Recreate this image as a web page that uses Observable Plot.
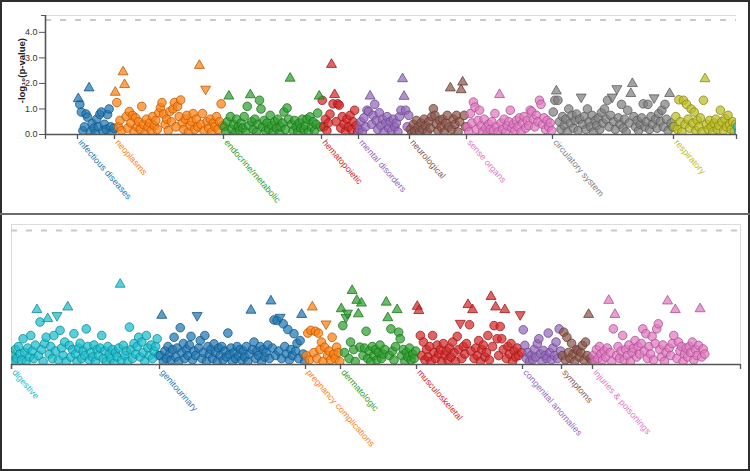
<!DOCTYPE html>
<html><head><meta charset="utf-8">
<script src="https://cdn.jsdelivr.net/npm/d3@7"></script>
<script src="https://cdn.jsdelivr.net/npm/@observablehq/plot@0.6"></script>
<style>
html,body{margin:0;padding:0;background:#fff;}
#wrap{position:relative;width:750px;height:471px;overflow:hidden;font-family:"Liberation Sans",Arial,sans-serif;background:#fff;}
#top,#bottom{position:absolute;left:0;}
#top{top:0;} #bottom{top:214px;}
.b{position:absolute;}
</style></head><body>
<div id="wrap">
<div id="top"></div><div id="bottom"></div>
<div class="b" style="left:0;top:0;width:750px;height:2px;background:#2e2e2e"></div>
<div class="b" style="left:0;top:0;width:2px;height:471px;background:#2e2e2e"></div>
<div class="b" style="left:748px;top:0;width:2px;height:471px;background:#2e2e2e"></div>
<div class="b" style="left:0;top:469px;width:750px;height:2px;background:#2e2e2e"></div>
<div class="b" style="left:0;top:213px;width:750px;height:1.5px;background:#6a6a6a"></div>
</div>
<script>
// ---- data (values are -log10(p); "^" = up triangle, "v" = down triangle) ----
const threshold = 4.48;
const yTicks = [0, 1, 2, 3, 4];
const categories = ["infectious diseases", "neoplasms", "endocrine/metabolic", "hematopoietic", "mental disorders", "neurological", "sense organs", "circulatory system", "respiratory", "digestive", "genitourinary", "pregnancy complications", "dermatologic", "musculoskeletal", "congenital anomalies", "symptoms", "injuries & poisonings"];
const catStart = [0, 18.5, 73, 122, 140.5, 166, 194.5, 237.5, 298, 329.5, 403.5, 476.5, 494, 532, 585, 604.5, 620];
const lastEnd = 676.5;
const catColors = ["#1f77b4", "#ff7f0e", "#2ca02c", "#d62728", "#9467bd", "#8c564b", "#e377c2", "#7f7f7f", "#bcbd22", "#17becf", "#1f77b4", "#ff7f0e", "#2ca02c", "#d62728", "#9467bd", "#8c564b", "#e377c2"];

const infectiousDiseases = ["^1.4", 1.18, 0.88, 0.15, 0.3, 0.8, 0.68, "^1.82", 0.1, 0.43, 0.25, 0.05, 0.6, 0.3, 0.79, 0.88, 0.15, 0.4, 0.2, 0.78, 1.0, 0.3, 0.1, 0.25];
const neoplasms = ["^1.65", 1.25, 0.3, 0.55, 0.15, "^2.45", "^1.95", 0.7, 0.25, 0.9, 0.45, 0.75, 0.1, 0.65, 0.3, 0.5, 0.2, 1.1, 0.4, 0.05, 0.6, 0.3, 0.45, 0.15, 0.7, 0.35, 0.55, 0.2, 0.85, 1.05, 1.25, 0.8, 0.4, 0.6, 0.15, 0.9, 0.5, 1.0, 1.25, 0.3, 1.1, 0.7, 1.35, 0.45, 0.2, 0.6, 0.75, 0.1, 0.35, 0.5, 0.82, 0.2, 0.6, 0.3, "^2.7", 0.4, 0.82, 0.15, "v1.78", 0.5, 0.25, 0.6, 0.1, 0.45, 0.3, 0.7, 0.2, 0.5, 1.2, 0.35];
const endocrineMetabolic = [0.3, 0.1, 0.5, "^1.5", 0.7, 0.2, 0.4, 0.05, 0.6, 0.3, 0.15, 0.45, 0.25, 0.7, 0.1, 1.1, 0.35, "^1.55", 0.5, 0.2, 0.6, 0.1, 0.4, 1.34, 1.0, 0.3, 0.55, 0.15, 0.45, 0.2, 0.75, 0.35, 0.1, 0.5, 0.25, 0.6, 0.05, 0.3, 0.45, 0.88, 0.2, 1.04, 0.6, "^2.2", 0.4, 0.15, 0.55, 0.3, 0.1, 0.45, 0.25, 0.6, 0.2, 0.35, 0.6, 0.1, 0.69, 0.3, 0.5, 0.15, 0.4, 0.84, "^1.5", 0.3];
const hematopoietic = [1.34, 0.3, 0.6, 0.15, 0.45, 0.8, "^2.74", 1.2, "^1.56", 0.5, 1.2, 1.15, 0.25, 0.7, 0.4, 0.1, 0.6, 0.3, 0.75, 0.2, 0.5, 0.95, 0.35, 0.1];
const mentalDisorders = [0.2, 0.5, 0.1, 0.65, 0.3, 0.95, 0.9, "^1.5", 0.4, 0.75, 1.18, 0.55, 0.2, 0.85, 0.35, 0.6, 0.1, 0.45, 0.7, 0.25, 0.5, 0.15, 0.6, 0.3, 0.45, 0.1, 0.7, 0.95, "^2.18", "^1.49", 0.95, 0.3, 0.75];
const neurological = [0.2, 0.05, 0.4, 0.15, 0.55, 0.3, 0.1, 0.45, 0.2, 0.6, 0.35, 0.1, 0.5, 0.25, 0.7, 1.01, 0.75, 0.4, 0.15, 0.55, 0.3, 0.6, 0.1, 0.45, 0.75, 0.3, "^1.82", 0.2, 0.6, 0.4, 0.75, 0.1, 0.5, "^1.75", "^2.05", 0.75, 0.3];
const senseOrgans = [0.3, 0.1, 0.82, 0.45, 1.27, 1.07, 0.2, 0.55, 0.95, 0.35, 0.1, 0.6, 0.25, 0.05, 0.4, 0.2, 0.5, 0.15, 0.82, 0.3, 0.1, "^1.56", 0.45, 0.2, 0.6, 0.1, 0.35, 0.5, 0.95, 0.25, 0.4, 0.15, 0.55, 0.3, 0.65, 0.1, 0.45, 0.7, 0.25, 0.55, 0.35, 0.95, 0.9, 0.6, 0.3, 0.75, 0.5, 1.34, 1.18, 0.4, 0.65, 0.2, 0.55, 0.3, 0.45, 0.15];
const circulatorySystem = [0.88, 1.34, "^1.7", 1.34, 0.5, 0.2, 0.7, 0.35, 0.6, 0.1, 1.0, 0.45, 0.75, 0.25, 0.55, 0.8, 0.15, 0.6, "v1.47", 0.4, 0.7, 0.2, 1.0, 0.5, 0.3, 0.75, 0.1, 0.55, 0.35, 0.65, 0.2, 0.85, 0.45, 1.0, 0.6, 1.34, 0.3, 0.75, "v1.47", 0.5, 0.2, "v1.8", 0.65, 0.4, 1.18, 0.25, 0.6, 0.1, 0.95, 0.45, "^1.6", "^1.99", 0.7, 0.3, 0.55, 0.15, 0.4, 0.65, 1.2, 0.3, 0.5, 1.18, 0.2, 0.7, 0.4, "v1.44", 0.6, 0.25, 0.82, 0.5, 0.95, 0.3, 1.18, 0.6, 0.15, "^1.6", 0.45, 0.3];
const respiratory = [0.3, 0.7, 0.2, 1.36, 0.5, 0.1, 1.34, 0.4, 1.18, 0.6, 0.25, 1.0, 0.45, 0.88, 0.15, 0.55, 0.3, 0.65, 0.1, 1.34, "^2.18", 0.4, 0.2, 0.55, 0.3, 0.1, 0.45, 0.6, 0.2, 0.35, 0.95, 0.5, 0.15, 0.62, 0.3, 0.75, 0.4, 0.2, 0.5, 0.1, 0.4];
const digestive = [0.3, 0.1, 0.5, 0.2, 0.6, 0.35, 0.15, 0.86, 0.4, 0.1, 0.55, 0.25, 0.97, 0.45, 0.2, 0.65, "^1.83", 0.3, 1.42, 0.5, 0.1, 0.7, 0.91, "^1.53", 0.35, 0.6, 0.2, 0.97, 0.45, "v1.64", 0.15, 1.14, 0.55, 0.3, 0.75, 0.1, "^1.92", 0.64, 0.25, 0.5, 1.03, 0.35, 0.1, 0.55, 0.71, 0.2, 0.45, 0.3, 1.19, 0.6, 0.15, 0.4, 0.25, 0.65, 0.1, 0.5, 0.3, 0.55, 0.97, 0.2, 0.45, 0.1, 0.6, 0.35, 0.2, 0.5, 0.05, 0.4, 0.25, 0.55, "^2.68", 0.15, 0.64, 0.3, 0.45, 0.1, 1.25, 0.5, 0.2, 0.7, 0.35, 0.6, 0.91, 0.25, 0.75, 0.4, 0.1, 0.97, 0.55, 0.3, 0.65, 0.2, 0.45, 0.6, 0.86, 0.3];
const genitourinary = [0.3, "^1.64", 0.1, 0.45, 0.2, 0.6, 0.35, 0.15, 0.5, 0.91, 0.25, 0.55, 0.1, 1.23, 0.4, 0.7, 0.2, 0.5, 0.3, 0.65, 0.94, 0.15, 0.45, 0.3, "v1.64", 0.55, 0.8, 0.2, 0.4, 0.97, 0.1, 0.6, 0.35, 0.5, 0.2, 0.69, 0.4, 0.1, 0.55, 0.3, 0.6, 0.15, 0.45, 0.25, 1.05, 0.35, 0.55, 0.1, 0.4, 0.2, 0.6, 0.3, 0.5, 0.15, 0.45, 0.25, 0.6, 0.1, 0.35, "^1.81", 0.5, 0.75, 0.2, 0.45, 0.3, 0.6, 0.1, 0.5, 0.25, 0.4, 0.65, 0.2, "^2.12", 0.55, 1.49, 0.3, 1.47, 0.45, "v1.58", 0.2, 1.36, 0.6, 0.35, 1.17, 0.15, 0.5, 0.3, 1.03, 0.45, 0.71, 0.2, 0.8, "^1.67", 0.35, 0.1];
const pregnancyComplications = [0.3, 1.05, 0.15, 1.14, "^1.92", 0.4, 1.11, 0.2, 1.05, 0.5, 0.75, 0.1, 0.58, "v1.36", 0.3, 0.45, 0.15, 0.91, 0.35, 0.2, 0.58, 0.4, 0.1];
const dermatologic = ["^1.86", 1.3, 0.4, "v1.58", "v1.72", 0.2, 0.75, "^2.47", 0.5, 0.1, "^2.14", "^1.69", 0.58, "^2.05", 0.3, 0.55, 1.11, 0.2, 0.45, 0.1, 0.6, 0.3, 0.5, 0.15, 0.4, 0.65, 0.2, 0.35, 0.5, "^2.08", "^1.56", 0.3, 1.19, 0.45, 0.15, 0.6, "^1.83", 1.08, 0.86, 0.3, 0.5, 0.1, 0.4, 0.25, 0.55, 0.15, 0.35, 0.2, 0.45];
const musculoskeletal = ["^1.94", "^1.8", 0.97, 0.3, 0.75, 0.15, 0.5, 0.25, 0.6, 0.1, 0.97, 0.4, 0.2, 0.65, 0.35, 0.5, 0.1, 0.7, 0.3, 0.45, 0.15, 0.55, 0.25, 0.75, 0.4, 0.1, 0.94, 0.5, "v1.38", 0.2, 0.6, 0.35, 0.7, "^2.0", 1.33, 0.45, "^1.83", 0.2, 0.55, 0.3, 0.8, 0.1, 0.5, 0.65, 0.25, 0.4, 0.97, 0.15, "^2.27", 0.6, 1.3, "^1.92", 0.86, 0.3, 1.27, 0.86, 0.5, "^1.83", 0.2, 0.6, 0.35, 0.7, 0.1, 0.45, 0.25, 0.55, 0.3, "v1.67", 0.4];
const congenitalAnomalies = [1.16, 0.64, 0.2, 0.4, 0.1, 0.3, 0.15, 0.5, 0.25, 0.69, 0.86, 0.35, 0.1, 0.47, 0.3, 0.2, 1.05, 0.4, 0.15, 0.55, 0.3, 0.75, 0.2, 1.19, 0.45];
const symptoms = [0.3, 1.08, 0.15, 0.91, 0.4, 0.2, 0.71, 0.35, 0.1, 0.5, 0.47, 0.25, 0.4, 0.64, 0.15, 0.75, 0.3, "^1.67", 0.2, 0.1];
const injuriesPoisonings = [0.3, 0.1, 0.5, 0.2, 0.6, 0.35, 0.15, 0.45, 0.25, 0.55, "^2.14", 0.4, 0.1, 1.19, "^1.67", 0.3, 0.6, 0.2, 0.45, 0.97, 0.15, 0.5, 0.3, 0.65, 0.1, 0.4, 0.55, 0.8, 0.25, 0.6, 0.35, 0.7, 1.19, 0.45, 1.03, 0.2, 0.6, 0.35, 0.94, 0.15, 0.7, 1.19, 1.36, 0.5, 0.25, 0.65, 0.1, 0.4, "^2.12", 0.55, 0.3, 0.7, 0.97, "^1.83", 0.2, 0.75, 0.45, 0.6, 0.1, 0.35, 0.55, 0.25, 0.6, 0.4, 0.75, 0.15, 0.5, 0.3, 0.64, "^1.86", 0.25, 0.52, 0.35];

const series = [infectiousDiseases, neoplasms, endocrineMetabolic, hematopoietic, mentalDisorders, neurological, senseOrgans, circulatorySystem, respiratory, digestive, genitourinary, pregnancyComplications, dermatologic, musculoskeletal, congenitalAnomalies, symptoms, injuriesPoisonings];

// ---- build table ----
function parse(v) {
  if (typeof v === "number") return {y: v, shape: "circle"};
  return {y: +v.slice(1), shape: v[0] === "^" ? "up" : "down"};
}
const points = [];
series.forEach((vals, k) => {
  const s = catStart[k], e = k + 1 < catStart.length ? catStart[k + 1] : lastEnd;
  const fill = catColors[k], stroke = d3.color(fill).darker(0.9).formatHex();
  vals.forEach((v, i) => {
    const p = parse(v);
    points.push({x: s + (i + 0.5) * (e - s) / vals.length, y: p.y, shape: p.shape, fill, stroke});
  });
});
const catTable = categories.map((name, k) => ({name, start: catStart[k], color: catColors[k]}));

const sqrt3 = Math.sqrt(3);
const triangleDown = {draw(ctx, size) {
  const y = -Math.sqrt(size / (sqrt3 * 3));
  ctx.moveTo(0, -y * 2); ctx.lineTo(-sqrt3 * y, y); ctx.lineTo(sqrt3 * y, y); ctx.closePath();
}};

function panel(o) {
  const [d0, d1] = o.domain;
  const pts = points.filter(d => d.x >= d0 - 4 && d.x <= d1 + 4);
  const labels = catTable.filter(c => c.start >= d0 && c.start < d1);
  const ticks = [d0, ...labels.map(c => c.start), d1];
  const dotOpts = {x: "x", y: "y", fill: "fill", stroke: "stroke", fillOpacity: 0.72, strokeWidth: 0.8, clip: true};
  const marks = [];
  if (o.frame) marks.push(Plot.frame({stroke: "#dcdcdc"}));
  else marks.push(Plot.ruleY([o.yMax], {stroke: "#dcdcdc", strokeWidth: 1.2}));
  marks.push(Plot.ruleY([threshold], {stroke: "#c9c9c9", strokeWidth: 2, strokeDasharray: "6,9"}));
  marks.push(Plot.dot(pts.filter(d => d.shape === "circle"), {...dotOpts, r: 4.3}));
  marks.push(Plot.dot(pts.filter(d => d.shape === "up"), {...dotOpts, r: 3.7, symbol: "triangle"}));
  marks.push(Plot.dot(pts.filter(d => d.shape === "down"), {...dotOpts, r: 3.7, symbol: triangleDown}));
  marks.push(Plot.ruleY([0], {stroke: "#555", strokeWidth: 1.6}));
  marks.push(Plot.axisX({ticks, tickSize: 5, tickFormat: () => "", label: null, stroke: "#555", strokeWidth: 1.3}));
  marks.push(Plot.text(labels, {x: "start", y: () => 0, text: "name", fill: "color", rotate: 49,
    textAnchor: "start", lineAnchor: "top", dx: 5, dy: 4, fontSize: 9}));
  if (o.yAxis) {
    marks.push(Plot.ruleX([d0], {y1: 0, y2: o.yMax, stroke: "#555", strokeWidth: 1.6}));
    marks.push(Plot.axisY({ticks: yTicks, tickFormat: ".1f", tickSize: 6, tickPadding: 2, fontSize: 9, label: null, stroke: "#555"}));
    marks.push(Plot.axisY({ticks: [o.yMax], tickFormat: () => "", tickSize: 4, label: null, stroke: "#555"}));
    marks.push(Plot.text(["-log₁₀(p-value)"], {text: d => d, x: () => d0, y: () => 2.5, dx: -24, rotate: -90,
      textAnchor: "middle", fontWeight: "bold", fontSize: 9.5, fill: "#222"}));
  }
  return Plot.plot({
    width: 750, height: o.height,
    marginLeft: o.ml, marginRight: o.mr, marginTop: o.mt, marginBottom: o.mb,
    x: {domain: o.domain},
    y: {domain: [0, o.yMax], axis: o.yAxis ? undefined : null},
    color: {type: "identity"},
    style: {fontFamily: "'Liberation Sans', Arial, sans-serif", fontSize: "9px", color: "#333", background: "transparent", overflow: "visible"},
    marks
  });
}

document.getElementById("top").append(panel({domain: [-16, 329.5], height: 213, ml: 45, mr: 14, mt: 15, mb: 79, yMax: 4.66, yAxis: true, frame: false}));
document.getElementById("bottom").append(panel({domain: [329.5, 694], height: 256, ml: 11, mr: 10, mt: 10, mb: 106, yMax: 4.68, yAxis: false, frame: true}));
</script>
</body></html>
